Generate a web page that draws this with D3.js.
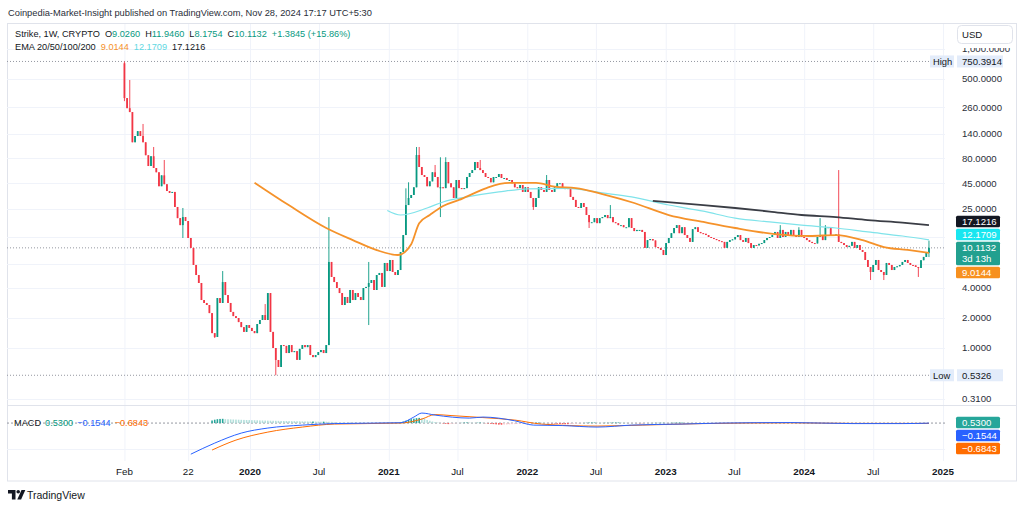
<!DOCTYPE html>
<html>
<head>
<meta charset="utf-8">
<script src="https://cdn.jsdelivr.net/npm/d3@7"></script>
<style>
body { margin: 0; background: #fff; }
text { font-family: "Liberation Sans", Arial, sans-serif; }
</style>
</head>
<body>
<div id="chart"></div>
<script>
var w = 1024;
var h = 509;

// weekly candles, Strike (STRK) / USD, first week starts 2019-02-04
var firstWeek = "2019-02-04";
var firstOpen = 720;
var closes = [
  322, 255, 233, 116, 134, 150, 134, 116, 86, 67,
  84, 64, 58, 42, 54, 44, 37.6, 36, 36.8, 26,
  20.1, 17.1, 20.6, 18.8, 12.7, 10.1, 6.81, 5.40, 4.49, 3.03,
  2.83, 2.70, 2.24, 1.41, 1.29, 3.17, 2.83, 4.59, 3.40, 2.83,
  2.30, 2.09, 2.0, 1.82, 1.62, 1.45, 1.70, 1.59, 1.48, 1.41,
  1.74, 1.91, 2.14, 1.91, 3.56, 1.45, 1.0, 0.758, 0.645, 1.07,
  1.05, 0.89, 1.07, 0.91, 0.93, 0.76, 0.98, 1.07, 1.02, 1.07,
  0.85, 0.81, 0.85, 0.91, 0.955, 0.89, 1.07, 7.30, 5.16, 4.59,
  4.0, 3.56, 2.70, 3.25, 2.83, 3.82, 3.03, 3.56, 3.25, 3.03,
  4.0, 4.1, 4.49, 4.81, 3.82, 5.40, 5.66, 4.1, 7.13, 5.92,
  7.64, 5.79, 5.40, 6.06, 9.19, 13.6, 27.2, 32.0, 34.3, 41,
  86.4, 65.5, 54.4, 52, 42, 47, 58, 52, 41, 41,
  40.2, 73.5, 45, 41, 32, 48.5, 40.2, 39.4, 40.2, 52,
  57, 61, 73.5, 64, 61, 57, 52, 50.8, 46, 52,
  52, 55.7, 50.8, 50.8, 48.5, 48.5, 45, 41, 40.2, 43.2,
  36.8, 41, 36.8, 32, 26, 32, 41, 38.5, 36.8, 48.5,
  38.5, 36.8, 41, 45, 45, 40.2, 40.2, 40.2, 32.8, 30.6,
  26, 25.4, 28.5, 26, 21.6, 18.3, 18.3, 20.1, 17.9, 20.1,
  20.6, 21.6, 20.1, 20.6, 18.3, 17.9, 17.1, 17.1, 16.3, 16.3,
  20.1, 16.0, 14.9, 15.3, 15.3, 14.6, 10.1, 12.1, 12.4, 12.0,
  10.3, 10.1, 9.63, 8.57, 11.3, 12.7, 14.2, 16.0, 17.1, 14.2,
  16.3, 13.6, 12.7, 11.6, 15.6, 16.3, 14.6, 14.2, 14.0, 13.6,
  13.0, 12.7, 12.4, 12.1, 11.8, 11.6, 10.1, 11.6, 12.1, 12.3,
  13.0, 13.6, 12.1, 11.6, 12.7, 11.3, 10.1, 10.8, 10.7, 11.1,
  11.3, 12.1, 12.7, 13.0, 13.6, 14.6, 12.7, 15.3, 13.0, 14.6,
  13.6, 15.3, 13.6, 13.0, 15.3, 13.0, 12.7, 12.1, 11.6, 11.3,
  11.2, 13.0, 13.6, 12.1, 16.0, 16.3, 13.6, 13.5, 13.8, 11.6,
  11.3, 10.8, 10.3, 10.6, 11.6, 10.1, 10.8, 9.63, 9.19, 7.64,
  6.5, 5.79, 6.81, 7.64, 6.06, 5.79, 5.40, 7.13, 6.81, 6.06,
  6.5, 6.6, 6.81, 7.30, 7.64, 7.13, 6.81, 6.75, 6.5, 6.35,
  7.6, 8.2, 9.026, 10.1132
];
// [week index, price] for the wicks that reach past the body
var wickHigh = [[0, 750.3914], [2, 489], [7, 177], [11, 104], [15, 77], [22, 25.4], [37, 5.92],
  [53, 2.76], [77, 20.6], [92, 7.3], [106, 40], [107, 46], [110, 104], [111, 104], [117, 68.6],
  [119, 82], [121, 82], [134, 77], [159, 54.4], [183, 27.2], [247, 17.1], [254, 16.3],
  [262, 20.1], [264, 17.1], [269, 61], [283, 7.64], [303, 11.946]];
var wickLow = [[0, 300], [22, 12.7], [34, 1.26], [57, 0.5326], [92, 1.70], [119, 20.6],
  [154, 24.3], [175, 16], [281, 4.81], [286, 4.81], [299, 5.16], [303, 8.1754]];

// moving averages, [week index, value]
var ema50 = [[49, 45.6], [62, 27], [76, 16], [86, 12.1], [95, 9.6], [103, 8.57],
  [108, 11], [111, 17.9], [115, 21.6], [120, 26.6], [126, 30.6], [132, 36], [137, 41],
  [145, 45.3], [155, 45.3], [162, 41.6], [170, 40.3], [180, 35], [192, 28.5], [205, 21.6],
  [218, 18.4], [230, 16], [245, 13.9], [258, 13.3], [268, 13.6], [278, 12.1], [286, 10.3],
  [295, 9.63], [303, 9.0144]];
var ema100 = [[99, 24], [104, 21.6], [114, 25.4], [120, 29.2], [129, 32.8], [141, 36.8],
  [152, 39.6], [167, 40], [180, 36], [191, 32.8], [205, 27.2], [218, 23.6], [230, 20.1],
  [243, 18.4], [255, 17.1], [268, 16], [280, 14.6], [293, 13.3], [303, 12.1709]];
var ema200 = [[199, 29.9], [218, 27.2], [230, 25.4], [243, 23.4], [255, 21.6], [268, 20.6],
  [280, 19.2], [293, 18.1], [303, 17.1216]];
var emaLast = [9.0144, 12.1709, 17.1216];

// MACD pane
var macdLine = [[25, -60], [34, -38.6], [44, -19.3], [54, -9.6], [67, -3.9], [79, -1], [104, 0.6],
  [109, 11.6], [112, 19.3], [117, 15.4], [130, 9.6], [135, 11.6], [147, 4.4], [154, -3.9],
  [165, -4.8], [178, -7.7], [191, -3.9], [210, -1.9], [225, 0], [251, 1], [274, -1], [293, -1],
  [303, -0.1544]];
var signalLine = [[33, -52], [42, -32.8], [54, -17.4], [67, -7.7], [79, -1.9], [104, 0],
  [112, 7.7], [117, 16.4], [123, 14.5], [135, 10.6], [147, 5.8], [157, -1.9], [178, -5.8],
  [195, -3.9], [218, -1], [251, 0.4], [274, -0.6], [303, -0.6843]];
var histStart = 33;
var hist = [
  5, 6.5, 7.5, 8, 8.2,
  7.5, 7.3, 7.1, 6.9, 6.7, 6.5, 6.3, 6.1, 5.9, 5.7, 5.6, 5.5, 5.3, 5.1, 5, 4.9, 4.7, 4.6, 4.5, 4.4,
  4.3, 4.1, 4, 3.9, 3.8, 3.7, 3.6, 3.5, 3.4, 3.3, 3.2, 3.1, 3.0, 3.0, 2.9, 2.8, 2.7, 2.7, 2.6, 2.5, 2.4,
  1.5, 1.2, 1, 0.8, 0.6, 0.5, 0.5, 0.4, 0.4, 0.3, 0.3, 0.3, 0.2, 0.2, 0.2, 0.2, 0.2, 0.3, 0.3, 0.3,
  0.4, 0.4, 0.5, 0.6, 0.8,
  1.5, 3, 4.5, 6, 7.5, 8.5, 9.5, 10, 9.5,
  8, 6, 4.5, 3, 2, 1, 0, -0.8,
  -1.5, -2, -1.5, -1, -0.5, 0, 0.5, 1, 1.2, 1, 0.8, 0.6, 0.8, 1, 0.6,
  -0.5, -1, -1.5, -2, -2.5, -3, -3.2, -3, -2.8, -2.5, -2.2, -2, -1.5, -1.2, -1, -0.8, -0.5, 0, 0.4,
  0.8, 1, 0.8, 0.5, 0.2, -0.3,
  -0.8, -1, -1.4, -1.8, -2, -2.2, -2.2, -2, -1.6, -1.2, -0.8, -0.3, 0.3, 0.7, 1, 1.1, 1.1, 0.9, 0.7,
  0.6, 0.6, 0.6, 0.8, 1, 1.1, 1.2, 1, 0.8, 0.5, 0.3, 0.2, 0, -0.2, -0.4, -0.5, -0.3, 0, 0.2, 0.3, 0.4,
  0.5, 0.6, 0.6, 0.5, 0.4, 0.6, 0.8, 0.9, 1, 1, 0.9, 0.8, 0.6, 0.5, 0.4, 0.3, 0.2, 0.2, 0.1, 0.1
];
var macdLast = [0.5300, -0.1544, -0.6843];

// axes
var tickDates = ["2019-02-04", "2019-07-22", "2020-01-01", "2020-07-01", "2021-01-01", "2021-07-01",
  "2022-01-01", "2022-07-01", "2023-01-01", "2023-07-01", "2024-01-01", "2024-07-01", "2025-01-01"];
var tickLabels = ["Feb", "22", "2020", "Jul", "2021", "Jul", "2022", "Jul", "2023", "Jul", "2024", "Jul", "2025"];
var priceTicks = [1000, 500, 260, 140, 80, 45, 25, 4, 2, 1, 0.31];
var gridTicks = [1000, 500, 260, 140, 80, 45, 25, 13, 7, 4, 2, 1, 0.31];
var highValue = 750.3914;
var lowValue = 0.5326;

var green = "#089981", red = "#f23645";
var ink = "#131722";

var parse = d3.utcParse("%Y-%m-%d");
var start = parse(firstWeek);
function weekDate(i) { return d3.utcDay.offset(start, 7 * i); }

var svg = d3.select("#chart").append("svg")
    .attr("width", w)
    .attr("height", h);

var x = d3.scaleUtc()
    .domain([parse("2020-01-01"), parse("2025-01-01")])
    .range([250, 943]);
var y = d3.scaleLog().base(2)
    .domain([1, 1024])
    .range([348, 48]);
var ym = d3.scaleLinear()
    .domain([-50, 31])
    .range([449, 407]);

var paneLeft = 7, paneRight = 945;

var defs = svg.append("defs");
defs.append("clipPath").attr("id", "mainClip").append("rect")
    .attr("x", paneLeft).attr("y", 24).attr("width", paneRight - paneLeft).attr("height", 381);
defs.append("clipPath").attr("id", "macdClip").append("rect")
    .attr("x", paneLeft).attr("y", 406).attr("width", paneRight - paneLeft).attr("height", 56);

// frame
svg.append("rect")
    .attr("x", 7.5).attr("y", 23.5).attr("width", 1009).attr("height", 457.5)
    .attr("fill", "none").attr("stroke", "#e0e3eb");

// grid
svg.append("g").selectAll("line").data(tickDates).enter().append("line")
    .attr("x1", d => x(parse(d)) + 0.5).attr("x2", d => x(parse(d)) + 0.5)
    .attr("y1", 24).attr("y2", 461)
    .attr("stroke", "#f0f3fa");
svg.append("g").selectAll("line").data(gridTicks).enter().append("line")
    .attr("x1", paneLeft).attr("x2", paneRight)
    .attr("y1", d => Math.round(y(d)) + 0.5).attr("y2", d => Math.round(y(d)) + 0.5)
    .attr("stroke", "#f0f3fa");
svg.append("line").attr("x1", 8).attr("x2", 1016).attr("y1", 405.5).attr("y2", 405.5)
    .attr("stroke", "#e0e3eb");
svg.append("line").attr("x1", paneLeft).attr("x2", paneRight)
    .attr("y1", Math.round(ym(-50)) + 0.5).attr("y2", Math.round(ym(-50)) + 0.5)
    .attr("stroke", "#f0f3fa");

var main = svg.append("g").attr("clip-path", "url(#mainClip)");

// high / low / last price lines
[highValue, lowValue].forEach(function(v) {
  main.append("line")
      .attr("x1", paneLeft).attr("x2", 930)
      .attr("y1", y(v)).attr("y2", y(v))
      .attr("stroke", "#9598a1").attr("stroke-dasharray", "1,2");
});
main.append("line")
    .attr("x1", paneLeft).attr("x2", paneRight)
    .attr("y1", y(closes[closes.length - 1])).attr("y2", y(closes[closes.length - 1]))
    .attr("stroke", "#9598a1").attr("stroke-dasharray", "1,2");

// candles
var hiMap = new Map(wickHigh);
var loMap = new Map(wickLow);
var candles = closes.map(function(c, i) {
  var o = i == 0 ? firstOpen : closes[i - 1];
  return {
    date: weekDate(i), o: o, c: c,
    hi: Math.max(o, c, hiMap.get(i) || 0),
    lo: Math.min(o, c, loMap.has(i) ? loMap.get(i) : Infinity)
  };
});

var cg = main.append("g").selectAll("g").data(candles).enter().append("g");
cg.append("line")
    .attr("x1", d => x(d.date)).attr("x2", d => x(d.date))
    .attr("y1", d => y(d.hi)).attr("y2", d => y(d.lo))
    .attr("stroke", d => d.c >= d.o ? green : red)
    .attr("stroke-width", 0.9);
cg.append("rect")
    .attr("x", d => x(d.date) - 0.9)
    .attr("width", 1.8)
    .attr("y", d => y(Math.max(d.o, d.c)))
    .attr("height", d => Math.max(1, Math.abs(y(d.o) - y(d.c))))
    .attr("fill", d => d.c >= d.o ? green : red);

// EMAs
var emaPath = d3.line()
    .x(d => x(weekDate(d[0])))
    .y(d => y(d[1]))
    .curve(d3.curveMonotoneX);
main.append("path").datum(ema100).attr("d", emaPath)
    .attr("fill", "none").attr("stroke", "#7fe3ea").attr("stroke-width", 1.2);
main.append("path").datum(ema50).attr("d", emaPath)
    .attr("fill", "none").attr("stroke", "#f5922a").attr("stroke-width", 1.8);
main.append("path").datum(ema200).attr("d", emaPath)
    .attr("fill", "none").attr("stroke", "#3a3d45").attr("stroke-width", 1.8);

// MACD pane
var mg = svg.append("g").attr("clip-path", "url(#macdClip)");
mg.append("line")
    .attr("x1", paneLeft).attr("x2", 955)
    .attr("y1", ym(0)).attr("y2", ym(0))
    .attr("stroke", "#9598a1").attr("stroke-dasharray", "2,2");
mg.append("g").selectAll("rect").data(hist).enter().append("rect")
    .attr("x", (d, k) => x(weekDate(histStart + k)) - 0.8)
    .attr("width", 1.6)
    .attr("y", d => d >= 0 ? ym(d) : ym(0))
    .attr("height", d => Math.abs(ym(d) - ym(0)))
    .attr("fill", function(d, k) {
      var prev = k > 0 ? hist[k - 1] : 0;
      if (d >= 0) return d >= prev ? "#26a69a" : "#b2dfdb";
      return d <= prev ? "#ff5252" : "#ffcdd2";
    });
var macdPath = d3.line()
    .x(d => x(weekDate(d[0])))
    .y(d => ym(d[1]))
    .curve(d3.curveMonotoneX);
mg.append("path").datum(signalLine).attr("d", macdPath)
    .attr("fill", "none").attr("stroke", "#ff6d00").attr("stroke-width", 1);
mg.append("path").datum(macdLine).attr("d", macdPath)
    .attr("fill", "none").attr("stroke", "#2962ff").attr("stroke-width", 1);

// header and legends
var fmt = d3.format(",.4f");
svg.append("text").attr("x", 8).attr("y", 15.5)
    .attr("font-size", 9.3).attr("fill", "#2a2e39")
    .text("Coinpedia-Market-Insight published on TradingView.com, Nov 28, 2024 17:17 UTC+5:30");

var leg1 = svg.append("text").attr("x", 15).attr("y", 36.8).attr("font-size", 9.2).attr("fill", ink);
leg1.append("tspan").text("Strike, 1W, CRYPTO");
var ohlc = [["O", 9.0260], ["H", 11.9460], ["L", 8.1754], ["C", 10.1132]];
ohlc.forEach(function(p) {
  leg1.append("tspan").attr("dx", 5).text(p[0]);
  leg1.append("tspan").attr("fill", green).text(d3.format(".4f")(p[1]));
});
leg1.append("tspan").attr("dx", 5).attr("fill", green).text("+1.3845 (+15.86%)");

var leg2 = svg.append("text").attr("x", 15).attr("y", 50.3).attr("font-size", 9.2).attr("fill", ink);
leg2.append("tspan").text("EMA 20/50/100/200");
var emaColors = ["#f5922a", "#5fd8e2", ink];
emaLast.forEach(function(v, k) {
  leg2.append("tspan").attr("dx", 5).attr("fill", emaColors[k]).text(d3.format(".4f")(v));
});

var leg3 = svg.append("text").attr("x", 14).attr("y", 426.3).attr("font-size", 9.2).attr("fill", ink);
leg3.append("tspan").text("MACD");
var macdColors = [green, "#2962ff", "#ff6d00"];
macdLast.forEach(function(v, k) {
  leg3.append("tspan").attr("dx", 4).attr("fill", macdColors[k]).text(d3.format(".4f")(v));
});

// price axis
var axisG = svg.append("g");
axisG.selectAll("text").data(priceTicks).enter().append("text")
    .attr("x", 962).attr("y", d => y(d) + 3.3)
    .attr("font-size", 9.6).attr("fill", "#2a2e39")
    .text(d => fmt(d));
axisG.append("rect").attr("x", 946).attr("y", 24).attr("width", 70).attr("height", 24).attr("fill", "#fff");
axisG.append("rect").attr("x", 957.5).attr("y", 25.5).attr("width", 55).attr("height", 18).attr("rx", 4)
    .attr("fill", "#fff").attr("stroke", "#e0e3eb");
axisG.append("text").attr("x", 962).attr("y", 38).attr("font-size", 9.6).attr("fill", ink).text("USD");

// high / low tags
[["High", highValue], ["Low", lowValue]].forEach(function(p) {
  var cy = y(p[1]);
  axisG.append("rect").attr("x", 930).attr("y", cy - 6).attr("width", 24).attr("height", 12)
      .attr("fill", "#e3ecfa");
  axisG.append("text").attr("x", 933).attr("y", cy + 3.3).attr("font-size", 9.4).attr("fill", ink).text(p[0]);
  axisG.append("rect").attr("x", 957).attr("y", cy - 6).attr("width", 46).attr("height", 12)
      .attr("fill", "#e3ecfa");
  axisG.append("text").attr("x", 962).attr("y", cy + 3.3).attr("font-size", 9.6).attr("fill", ink).text(fmt(p[1]));
});

// stacked value tags, pushed apart around an anchor tag
function drawTags(tags, yScale, anchorIdx) {
  var gap = 1.5;
  tags.forEach(function(t) { t.h = t.lines.length > 1 ? 23.3 : 11.5; t.cy = yScale(t.v); });
  var a = tags[anchorIdx];
  a.top = a.cy - 6;
  var up = tags.filter(t => t !== a && t.cy <= a.cy).sort((p, q) => q.cy - p.cy);
  var down = tags.filter(t => t !== a && t.cy > a.cy).sort((p, q) => p.cy - q.cy);
  var edge = a.top;
  up.forEach(function(t) { t.top = Math.min(t.cy - t.h / 2, edge - gap - t.h); edge = t.top; });
  edge = a.top + a.h;
  down.forEach(function(t) { t.top = Math.max(t.cy - t.h / 2, edge + gap); edge = t.top + t.h; });
  tags.forEach(function(t) {
    axisG.append("rect").attr("x", 956).attr("y", t.top).attr("width", 44).attr("height", t.h)
        .attr("rx", 1.5).attr("fill", t.bg);
    t.lines.forEach(function(s, k) {
      axisG.append("text").attr("x", 962).attr("y", t.top + 9.2 + k * 11)
          .attr("font-size", 9.6).attr("fill", t.fg).text(s);
    });
  });
}
drawTags([
  {v: closes[closes.length - 1], bg: "#22a08f", fg: "#fff", lines: [fmt(closes[closes.length - 1]), "3d 13h"]},
  {v: emaLast[2], bg: "#131722", fg: "#fff", lines: [fmt(emaLast[2])]},
  {v: emaLast[1], bg: "#19e6f0", fg: "#fff", lines: [fmt(emaLast[1])]},
  {v: emaLast[0], bg: "#f7901e", fg: "#fff", lines: [fmt(emaLast[0])]}
], y, 0);
drawTags([
  {v: macdLast[0], bg: "#26a69a", fg: "#fff", lines: [fmt(macdLast[0])]},
  {v: macdLast[1], bg: "#2962ff", fg: "#fff", lines: [fmt(macdLast[1])]},
  {v: macdLast[2], bg: "#ff6d00", fg: "#fff", lines: [fmt(macdLast[2])]}
], ym, 0);

// time axis
svg.append("g").selectAll("text").data(tickDates).enter().append("text")
    .attr("x", d => x(parse(d)))
    .attr("y", 474.5)
    .attr("text-anchor", "middle")
    .attr("font-size", 9.8)
    .attr("font-weight", (d, k) => /^\d{4}$/.test(tickLabels[k]) ? "bold" : "normal")
    .attr("fill", ink)
    .text((d, k) => tickLabels[k]);

// TradingView mark
var logo = svg.append("g").attr("fill", ink);
logo.append("path").attr("d", "M8,490 h7.5 v9.5 h-3.6 v-6 h-3.9 z");
logo.append("circle").attr("cx", 18.2).attr("cy", 491.8).attr("r", 1.8);
logo.append("path").attr("d", "M21.5,490 h3.8 l-4.2,9.5 h-3.8 z");
svg.append("text").attr("x", 27).attr("y", 498.5).attr("font-size", 10.5).attr("fill", ink).text("TradingView");
</script>
</body>
</html>
